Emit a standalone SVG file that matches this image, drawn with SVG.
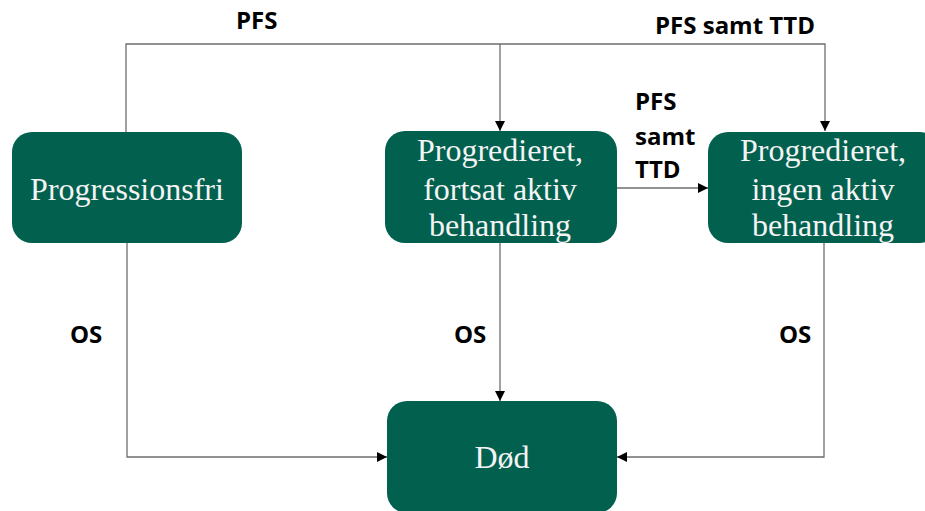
<svg xmlns="http://www.w3.org/2000/svg" width="925" height="511" viewBox="0 0 925 511">
<style>
.node{fill:#02604F}
.nt{font-family:"Liberation Serif","Times New Roman",serif;font-size:32px;fill:#F4F4F4;text-anchor:middle}
.lbl{font-family:"Open Sans","Liberation Sans",sans-serif;font-weight:700;font-size:24px;fill:#000}
.c{fill:none;stroke:#6E6E6E;stroke-width:1.3}
</style>
<defs>
<marker id="ah" viewBox="0 0 10 10" refX="10" refY="5" markerWidth="10" markerHeight="10" markerUnits="userSpaceOnUse" orient="auto">
<path d="M0,0 L10,5 L0,10 Z" fill="#000"/>
</marker>
</defs>
<rect width="925" height="511" fill="#fff"/>
<g id="connectors">
<path class="c" d="M126,132 V44 H825 V131" marker-end="url(#ah)"/>
<path class="c" d="M500,44 V131" marker-end="url(#ah)"/>
<path class="c" d="M617,188 H708" marker-end="url(#ah)"/>
<path class="c" d="M127,243 V457 H387" marker-end="url(#ah)"/>
<path class="c" d="M500,243 V401" marker-end="url(#ah)"/>
<path class="c" d="M824,243 V457 H617" marker-end="url(#ah)"/>
</g>
<g id="labels">
<text class="lbl" x="236" y="29">PFS</text>
<text class="lbl" x="655" y="34">PFS samt TTD</text>
<text class="lbl" x="635" y="110">PFS</text>
<text class="lbl" x="635" y="145">samt</text>
<text class="lbl" x="635" y="178">TTD</text>
<text class="lbl" x="70" y="343">OS</text>
<text class="lbl" x="454" y="343">OS</text>
<text class="lbl" x="779" y="343">OS</text>
</g>
<g id="node-progressionsfri">
<rect class="node" x="12" y="132" width="230" height="111" rx="20"/>
<text class="nt" x="127" y="200">Progressionsfri</text>
</g>
<g id="node-fortsat">
<rect class="node" x="385" y="131" width="232" height="112" rx="20"/>
<text class="nt" x="500" y="161">Progredieret,</text>
<text class="nt" x="500" y="200">fortsat aktiv</text>
<text class="nt" x="500" y="236">behandling</text>
</g>
<g id="node-ingen">
<rect class="node" x="708" y="132" width="232" height="111" rx="20"/>
<text class="nt" x="823" y="161">Progredieret,</text>
<text class="nt" x="823" y="200">ingen aktiv</text>
<text class="nt" x="823" y="236">behandling</text>
</g>
<g id="node-dod">
<rect class="node" x="387" y="401" width="230" height="112" rx="20"/>
<text class="nt" x="502" y="468">Død</text>
</g>
</svg>
